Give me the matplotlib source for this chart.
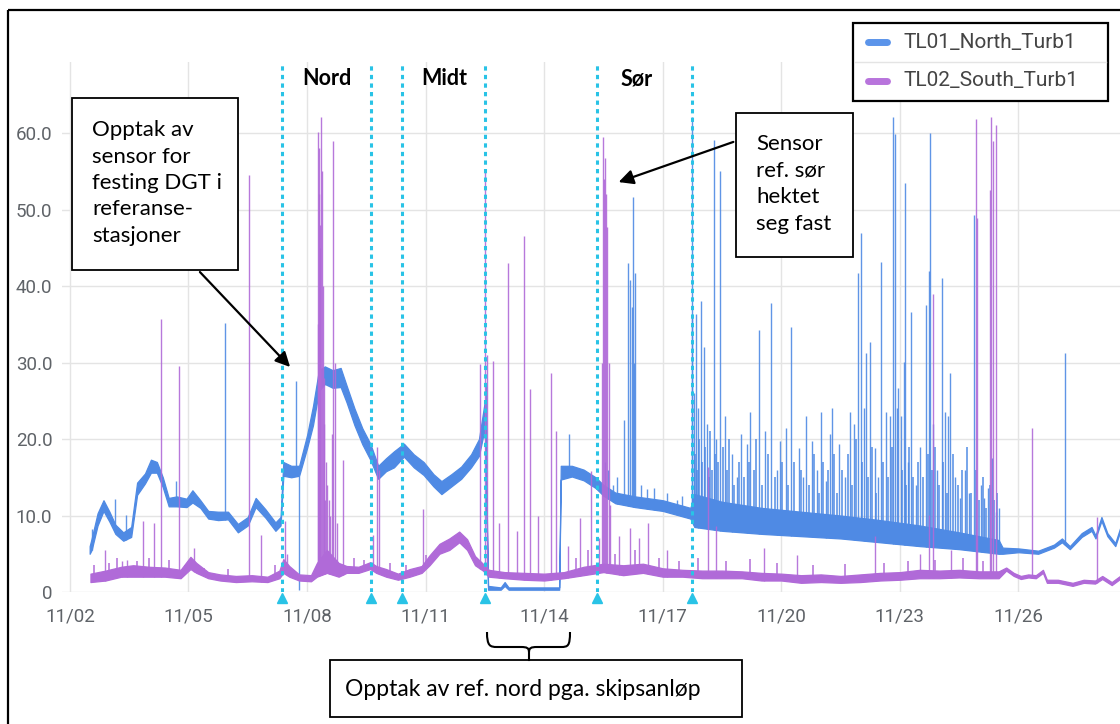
import numpy as np
import pandas as pd
import matplotlib
matplotlib.use('Agg')
import matplotlib.pyplot as plt
import matplotlib.dates as mdates
from matplotlib.patches import Rectangle, FancyArrowPatch, PathPatch
from matplotlib.path import Path

start = pd.Timestamp('2021-11-02')

# TL01 (north): noisy trace as lower/upper edge, days after 11/02 00:00
north_day = [0.50, 0.55, 0.70, 0.85, 1.00, 1.15, 1.35, 1.55, 1.70, 1.90, 2.05, 2.20, 2.35,
             2.50, 2.70, 2.95, 3.10, 3.30, 3.50, 3.75, 4.00, 4.25, 4.50, 4.70, 4.95, 5.20,
             5.33, 5.40, 5.60, 5.80, 6.00, 6.15, 6.30, 6.45, 6.65, 6.85, 7.00, 7.20, 7.40,
             7.60, 7.80, 8.00, 8.20, 8.45, 8.70, 8.95, 9.20, 9.40, 9.65, 9.90, 10.15, 10.35,
             10.50, 10.58, 10.90, 11.00, 11.10, 12.38, 12.42, 12.70, 13.00, 13.30, 13.50,
             13.80, 14.30, 15.00, 15.70, 15.80, 16.50, 17.50, 18.50, 19.50, 20.50, 21.50,
             22.50, 23.50, 23.60, 24.00, 24.50, 24.90, 25.10, 25.30, 25.60, 25.85, 25.95,
             26.10, 26.25, 26.45, 26.60]
north_lo = [5.0, 5.5, 8.7, 10.6, 9.2, 7.6, 6.7, 7.2, 12.7, 14.2, 15.6, 15.6, 13.7,
            11.2, 11.2, 11.1, 11.7, 11.0, 9.6, 9.4, 9.5, 7.8, 8.7, 11.1, 9.7, 8.0,
            8.7, 15.2, 15.0, 15.2, 18.8, 21.8, 26.3, 27.2, 26.7, 26.8, 24.8, 21.8, 19.3,
            17.3, 14.8, 15.8, 16.3, 17.7, 16.3, 15.3, 13.8, 12.8, 13.8, 14.8, 16.3, 17.8,
            21.5, 0.3, 0.3, 0.8, 0.3, 0.3, 14.7, 15.1, 14.6, 13.6, 12.6,
            11.6, 11.1, 10.6, 9.6, 8.5, 8.0, 7.6, 7.3, 7.0, 6.5, 6.0,
            5.6, 5.0, 5.0, 5.2, 5.0, 5.8, 6.5, 5.6, 7.2, 8.0, 7.0,
            9.3, 7.3, 6.0, 8.3]
north_hi = [6.0, 7.0, 10.3, 12.0, 10.5, 8.8, 7.8, 8.5, 14.3, 15.5, 17.3, 17.0, 15.0,
            12.3, 12.5, 12.2, 13.3, 12.0, 10.6, 10.5, 10.5, 8.9, 9.8, 12.3, 10.8, 9.1,
            9.8, 17.0, 16.5, 16.5, 20.5, 24.3, 29.0, 29.5, 29.0, 29.3, 27.0, 24.0, 21.4,
            19.4, 16.5, 17.5, 18.4, 19.4, 18.0, 17.0, 15.4, 14.5, 15.4, 16.4, 18.0, 20.0,
            25.0, 0.8, 0.6, 1.3, 0.6, 0.6, 16.5, 16.5, 16.0, 15.0, 14.0,
            13.0, 12.5, 12.0, 11.0, 12.8, 11.8, 11.0, 10.5, 10.0, 9.4, 8.7,
            7.8, 6.8, 5.8, 5.7, 5.4, 6.2, 7.0, 6.0, 7.7, 8.5, 7.4,
            9.8, 7.7, 6.4, 8.8]
north_spike_day = [0.55, 1.13, 1.41, 2.68, 3.93, 5.73, 5.80, 10.52, 12.63, 13.55, 13.62, 13.75,
                   13.85, 14.03, 14.12, 14.18, 14.22, 14.24, 14.27, 14.30, 14.45, 14.60, 14.78,
                   15.10, 15.35, 15.50, 15.74, 15.75, 15.78, 15.84, 15.90, 15.96, 16.04, 16.12,
                   16.29, 16.35, 16.46, 16.57, 16.75, 16.88, 16.99, 17.13, 17.22, 17.43, 17.60,
                   17.75, 17.90, 17.97, 18.11, 18.25, 18.44, 18.55, 18.63, 18.77, 18.90, 19.00,
                   19.12, 19.24, 19.28, 19.47, 19.60, 19.75, 19.85, 19.94, 20.01, 20.08, 20.14,
                   20.24, 20.36, 20.45, 20.52, 20.64, 20.74, 20.83, 20.87, 20.93, 20.96, 21.02,
                   21.10, 21.12, 21.20, 21.28, 21.40, 21.52, 21.65, 21.74, 21.77, 21.85, 21.95,
                   22.07, 22.14, 22.23, 22.28, 22.40, 22.52, 22.66, 22.75, 22.87, 23.05, 23.13,
                   23.22, 23.32, 23.42, 23.50, 25.17]
north_spike_top = [8.2, 12.2, 10.1, 14.5, 35.2, 27.6, 0.3, 27.0, 20.6, 17.0, 16.0, 14.0,
                   15.0, 22.5, 43.0, 40.8, 37.3, 51.7, 30.0, 41.7, 14.0, 13.5, 13.6,
                   13.0, 12.0, 12.5, 36.0, 62.1, 26.0, 36.4, 24.0, 38.0, 32.0, 22.0,
                   59.1, 20.0, 55.0, 23.0, 18.0, 15.0, 20.6, 19.3, 23.5, 34.2, 21.0,
                   37.8, 16.0, 19.7, 21.4, 34.7, 18.8, 15.0, 23.0, 19.7, 16.0, 23.5,
                   14.5, 20.6, 24.0, 19.3, 15.0, 23.5, 22.0, 41.7, 46.9, 24.0, 31.2,
                   32.7, 18.8, 15.0, 43.2, 23.5, 23.0, 62.1, 59.9, 24.0, 26.7, 23.0,
                   30.1, 53.5, 17.0, 36.6, 14.0, 19.0, 37.5, 42.0, 60.0, 22.0, 16.0,
                   41.0, 23.5, 23.0, 28.6, 15.0, 12.3, 16.0, 13.0, 49.3, 14.0, 12.3,
                   13.6, 17.5, 10.5, 11.0, 31.2]
# the dense low bursts after 11/17
north_burst_day = [15.82, 15.87, 15.93, 16.00, 16.08, 16.16, 16.20, 16.25, 16.32, 16.40, 16.52,
                   16.62, 16.68, 16.80, 16.93, 17.05, 17.18, 17.30, 17.36, 17.50, 17.66, 17.83,
                   18.03, 18.17, 18.32, 18.50, 18.70, 18.84, 18.96, 19.06, 19.18, 19.34, 19.40,
                   19.54, 19.68, 19.80, 19.90, 20.05, 20.19, 20.30, 20.40, 20.58, 20.69, 20.79,
                   21.06, 21.15, 21.24, 21.33, 21.45, 21.58, 21.70, 21.81, 21.90, 22.00, 22.10,
                   22.19, 22.34, 22.46, 22.58, 22.70, 22.81, 22.92, 23.00, 23.10, 23.17, 23.27,
                   23.37, 23.46]
north_burst_top = [18, 16, 20, 17, 19, 15, 21, 16, 18, 17, 19,
                   16, 20, 14, 17, 15, 17, 16, 20, 14, 18, 15,
                   17, 14, 17, 16, 14, 18, 13, 17, 16, 18, 13,
                   16, 18, 14, 20, 17, 15, 19, 13, 17, 15, 19,
                   16, 14, 19, 15, 17, 15, 18, 16, 19, 14, 17,
                   13, 18, 14, 16, 19, 13, 16, 12, 15, 11, 14,
                   12, 13]

# TL02 (south)
south_day = [0.52, 0.90, 1.30, 1.60, 2.00, 2.40, 2.80, 3.05, 3.20, 3.50, 3.80, 4.20, 4.60,
             5.00, 5.30, 5.40, 5.55, 5.80, 6.10, 6.25, 6.50, 6.80, 7.00, 7.30, 7.60, 7.75,
             8.00, 8.30, 8.60, 8.90, 9.10, 9.35, 9.60, 9.85, 10.05, 10.25, 10.45, 10.60,
             11.00, 11.50, 12.00, 12.50, 13.00, 13.50, 14.00, 14.50, 15.00, 15.50, 16.00,
             16.50, 17.00, 17.50, 18.00, 18.50, 19.00, 19.50, 20.00, 20.50, 21.00, 21.50,
             22.00, 22.50, 23.00, 23.50, 23.69, 23.88, 24.06, 24.25, 24.44, 24.62, 24.72,
             25.00, 25.37, 25.65, 25.94, 26.12, 26.36, 26.57]
south_lo = [1.3, 1.5, 2.0, 2.0, 2.0, 2.0, 1.8, 3.0, 2.5, 1.8, 1.5, 1.3, 1.4,
            1.3, 1.8, 2.5, 2.0, 1.5, 1.4, 2.0, 2.5, 2.0, 2.5, 2.5, 3.0, 2.5,
            2.0, 1.6, 2.0, 2.5, 3.5, 5.0, 5.5, 6.5, 5.5, 3.5, 2.8, 2.0,
            1.8, 1.6, 1.5, 1.8, 2.2, 2.6, 2.2, 2.5, 2.0, 2.0, 1.8,
            1.8, 1.8, 1.5, 1.5, 1.2, 1.3, 1.2, 1.3, 1.5, 1.6, 1.8,
            1.8, 1.9, 1.8, 1.8, 2.8, 2.1, 1.7, 1.9, 1.8, 2.5, 1.2,
            1.2, 0.8, 1.2, 1.1, 1.7, 0.9, 1.7]
south_hi = [2.4, 2.8, 3.3, 3.5, 3.3, 3.2, 2.9, 4.6, 3.8, 2.6, 2.3, 2.1, 2.2,
            2.0, 2.8, 4.3, 3.4, 2.3, 2.2, 3.8, 5.5, 3.8, 3.4, 3.3, 3.9, 3.4,
            3.0, 2.4, 3.0, 3.4, 4.8, 6.3, 7.0, 7.9, 6.9, 4.7, 3.7, 2.9,
            2.6, 2.5, 2.4, 2.6, 3.3, 3.7, 3.5, 3.7, 3.1, 2.9, 2.8,
            2.8, 2.7, 2.5, 2.4, 2.2, 2.3, 2.1, 2.3, 2.5, 2.6, 2.9,
            2.8, 2.9, 2.7, 2.7, 3.2, 2.5, 2.1, 2.3, 2.2, 2.9, 1.6,
            1.6, 1.2, 1.6, 1.5, 2.1, 1.3, 2.1]
south_spike_day = [0.90, 1.33, 1.45, 1.86, 2.13, 2.31, 2.77, 3.15, 4.54, 4.84, 5.44, 5.50,
                   6.27, 6.28, 6.30, 6.31, 6.33, 6.34, 6.36, 6.38, 6.40, 6.42, 6.43, 6.45,
                   6.47, 6.50, 6.55, 6.58, 6.62, 6.66, 6.70, 6.76,
                   6.91, 7.67, 7.76, 7.82, 8.94, 10.38, 10.51, 10.55, 10.71, 10.85, 11.08,
                   11.30, 11.50, 11.64, 11.84, 12.18, 12.30, 12.60, 12.91, 13.19, 13.38,
                   13.47, 13.50, 13.52, 13.54, 13.57, 13.60, 13.63, 13.66, 13.90, 14.17, 14.41,
                   14.62, 15.10, 16.14, 16.36, 17.55, 18.40, 20.36, 21.50, 21.73, 21.85,
                   22.30, 22.93, 22.96, 23.27, 23.30, 23.36, 23.42, 24.34, 25.98]
south_spike_top = [5.5, 4.0, 4.2, 9.3, 9.0, 35.7, 29.5, 5.8, 54.5, 7.4, 9.3, 5.0,
                   60.2, 35.0, 52.0, 58.0, 45.0, 48.0, 62.1, 55.0, 40.0, 28.0, 22.0, 12.0,
                   17.0, 14.0, 12.0, 10.0, 20.6, 59.0, 30.0, 9.0,
                   17.2, 7.5, 19.0, 16.0, 10.8, 29.8, 55.0, 31.0, 30.2, 9.0, 43.0,
                   8.0, 46.5, 26.5, 10.0, 28.6, 21.0, 6.0, 9.7, 15.8, 7.0,
                   30.0, 59.5, 54.0, 56.7, 52.0, 47.7, 30.0, 11.4, 7.3, 8.4, 7.1,
                   9.0, 5.5, 16.4, 8.6, 5.8, 4.8, 7.3, 5.0, 10.1, 39.0,
                   5.5, 61.9, 48.9, 52.5, 62.1, 59.0, 61.0, 21.5, 9.8]
# small blips along the south baseline
south_blip_day = [0.60, 1.00, 1.20, 1.70, 2.00, 2.50, 2.90, 3.40, 4.00, 5.20, 7.20, 7.45,
                  8.10, 8.50, 9.00, 12.80, 13.10, 13.80, 14.30, 14.90, 15.40, 15.90, 16.60,
                  17.20, 17.90, 18.80, 19.60, 20.60, 21.20, 21.90, 22.60, 23.10]
south_blip_top = [3.5, 3.8, 4.5, 4.0, 4.5, 4.2, 3.5, 3.2, 3.0, 3.5, 4.5, 4.2,
                  3.8, 3.5, 4.8, 4.5, 5.5, 5.0, 5.5, 4.5, 4.0, 4.5, 4.0,
                  4.3, 3.8, 3.5, 3.6, 3.8, 4.0, 4.2, 4.5, 4.0]

# moves between stations (dashed lines)
station_days = [5.37, 7.63, 8.40, 10.51, 13.33, 15.75]
station_names = ['Nord', 'Midt', 'Sør']
station_name_days = [6.50, 9.46, 14.35]

blue = '#4f8ae4'
purple = '#b06ad8'
cyan = '#29c3e6'
grey = '#5f6368'

W, H = 1120, 724
fig = plt.figure(figsize=(W / 100, H / 100), dpi=100)
ax = fig.add_axes([62 / W, 1 - 592 / H, 1 - 62 / W, (592 - 62) / H])

x0 = mdates.date2num(start)


def draw_band(day, lo, hi, color, z):
    x = x0 + np.array(day)
    ax.fill_between(x, lo, hi, color=color, lw=0.9, zorder=z)
    return x, lo


def draw_spikes(band, sday, stop, color, z, lw=1.0):
    sx = x0 + np.array(sday)
    base = np.interp(sx, band[0], band[1])
    ax.vlines(sx, base, stop, color=color, lw=lw, alpha=0.9, zorder=z)


nb = draw_band(north_day, north_lo, north_hi, blue, 3)
draw_spikes(nb, north_spike_day, north_spike_top, blue, 3)
draw_spikes(nb, north_burst_day, north_burst_top, blue, 3, lw=1.2)
sb = draw_band(south_day, south_lo, south_hi, purple, 4)
draw_spikes(sb, south_spike_day, south_spike_top, purple, 4)
draw_spikes(sb, south_blip_day, south_blip_top, purple, 4, lw=1.2)

ymax = 69.3
ax.set_xlim(x0 - 0.2, x0 + 26.57)
ax.set_ylim(0, ymax)

for d in station_days:
    ax.axvline(x0 + d, color=cyan, lw=2.2, ls=(0, (1.4, 1.4)), zorder=5)
ax.plot(x0 + np.array(station_days), np.full(len(station_days), -0.75), '^',
        color=cyan, ms=6.5, clip_on=False, zorder=6)
for name, d in zip(station_names, station_name_days):
    ax.text(x0 + d, 67.1, name, ha='center', va='center', fontsize=15.5,
            fontweight='bold', family=['Lato', 'DejaVu Sans'], zorder=7)

ax.xaxis.set_major_locator(mdates.DayLocator(bymonthday=range(2, 30, 3)))
ax.xaxis.set_major_formatter(mdates.DateFormatter('%m/%d'))
ax.set_yticks(range(0, 61, 10))
ax.set_yticklabels(['0'] + ['%.1f' % v for v in range(10, 61, 10)])
ax.grid(True, color='#e4e4e4', lw=1, zorder=0)
ax.set_axisbelow(True)
for s in ax.spines.values():
    s.set_visible(False)
ax.tick_params(length=0, labelsize=13.5, labelcolor=grey)
ax.tick_params(axis='y', pad=7)
ax.tick_params(axis='x', pad=11)
for lab in ax.get_xticklabels() + ax.get_yticklabels():
    lab.set_family(['Roboto', 'DejaVu Sans'])

# overlay in pixel coordinates for the boxes and arrows
ov = fig.add_axes([0, 0, 1, 1], zorder=10)
ov.set_xlim(0, W)
ov.set_ylim(H, 0)
ov.axis('off')
ov.patch.set_alpha(0)

txt = dict(family=['Lato', 'DejaVu Sans'], color='black')

# outer frame
ov.add_patch(Rectangle((8, 10), W + 20, H + 20, fill=False, ec='black', lw=1.6))

# legend
ov.add_patch(Rectangle((853, 23), 255, 78, fc='white', ec='black', lw=1.6))
ov.plot([855, 1106], [62, 62], color='#e4e4e4', lw=1)
for yy, col, name in [(42, '#5b94ea', 'TL01_North_Turb1'), (81, '#b874dc', 'TL02_South_Turb1')]:
    ov.plot([868, 887], [yy, yy], color=col, lw=5, solid_capstyle='round')
    ov.text(903, yy, name, va='center', ha='left', fontsize=15, color='#444444',
            family=['Roboto', 'DejaVu Sans'])

# box 1
ov.add_patch(Rectangle((72, 98), 166, 172, fc='white', ec='black', lw=1.3))
ov.text(92, 183, 'Opptak av\nsensor for\nfesting DGT i\nreferanse-\nstasjoner',
        va='center', ha='left', fontsize=16, linespacing=1.4, **txt)
ov.add_patch(FancyArrowPatch((198, 270), (292, 369), arrowstyle='-|>',
                             mutation_scale=22, color='black', lw=1.6))

# box 2
ov.add_patch(Rectangle((736, 113), 117, 144, fc='white', ec='black', lw=1.3))
ov.text(756, 184, 'Sensor\nref. sør\nhektet\nseg fast', va='center', ha='left',
        fontsize=16, linespacing=1.4, **txt)
ov.add_patch(FancyArrowPatch((736, 141), (616, 183), arrowstyle='-|>',
                             mutation_scale=22, color='black', lw=1.6))

# box 3 with brace
ov.add_patch(Rectangle((330, 660), 412, 57, fc='white', ec='black', lw=1.3))
ov.text(345, 690, 'Opptak av ref. nord pga. skipsanløp', va='center', ha='left',
        fontsize=16.5, **txt)
brace = Path([(487, 632), (487, 646), (490, 647), (497, 647), (521, 647),
              (527, 647), (529, 648), (529, 652), (529, 648), (531, 647), (537, 647),
              (561, 647), (568, 647), (570, 646), (570, 632)],
             [Path.MOVETO, Path.CURVE4, Path.CURVE4, Path.CURVE4, Path.LINETO,
              Path.CURVE4, Path.CURVE4, Path.CURVE4, Path.CURVE4, Path.CURVE4, Path.CURVE4,
              Path.LINETO, Path.CURVE4, Path.CURVE4, Path.CURVE4])
ov.add_patch(PathPatch(brace, fill=False, ec='black', lw=1.5))
ov.plot([529, 529], [650, 660], color='black', lw=1.5)

fig.savefig('out.png', dpi=100)
